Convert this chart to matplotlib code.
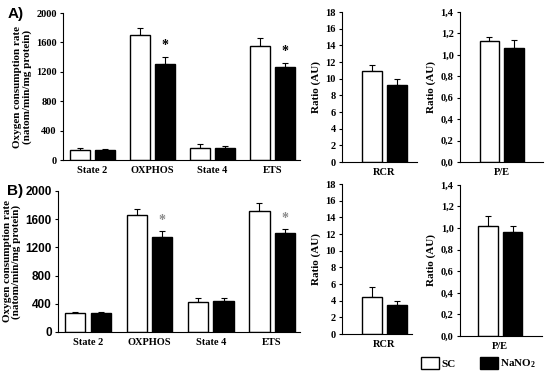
import matplotlib.pyplot as plt
import numpy as np

plt.rcParams['font.family'] = ['Liberation Serif', 'DejaVu Serif']
plt.rcParams['font.weight'] = 'bold'
plt.rcParams['axes.labelweight'] = 'bold'
plt.rcParams['mathtext.fontset'] = 'custom'
plt.rcParams['mathtext.rm'] = 'Liberation Serif:bold'
plt.rcParams['mathtext.bf'] = 'Liberation Serif:bold'
plt.rcParams['mathtext.default'] = 'bf'

states = ["State 2", "OXPHOS", "State 4", "ETS"]

# panel A
a_sc = [140, 1700, 167, 1547]
a_sc_err = [18, 92, 46, 118]
a_na = [140, 1312, 158, 1271]
a_na_err = [8, 91, 32, 50]
a_star = [False, True, False, True]
a_rcr = [10.87, 9.29]
a_rcr_err = [0.8, 0.71]
a_pe = [1.13, 1.065]
a_pe_err = [0.034, 0.078]

# panel B
b_sc = [270, 1664, 430, 1712]
b_sc_err = [18, 85, 52, 118]
b_na = [270, 1348, 435, 1409]
b_na_err = [10, 89, 47, 47]
b_star = [False, True, False, True]
b_rcr = [4.47, 3.51]
b_rcr_err = [1.16, 0.44]
b_pe = [1.023, 0.961]
b_pe_err = [0.089, 0.059]

W = 0.33
G = 0.085
off = W / 2 + G / 2

fig = plt.figure(figsize=(5.5, 3.75), dpi=100)


def style(ax, ymax, step, fmt, tickfont=None):
    for s in ['top', 'right']:
        ax.spines[s].set_visible(False)
    ax.spines['left'].set_linewidth(0.8)
    ax.spines['bottom'].set_linewidth(0.8)
    ax.set_ylim(0, ymax)
    ticks = np.arange(0, ymax + step / 2, step)
    ax.set_yticks(ticks)
    ax.set_yticklabels([fmt(t) for t in ticks])
    ax.tick_params(axis='y', length=2.5, width=0.8, pad=2, labelsize=7.5)
    ax.tick_params(axis='x', length=0, pad=4, labelsize=7.5)
    for lab in ax.get_yticklabels() + ax.get_xticklabels():
        lab.set_weight('bold')
    if tickfont:
        for lab in ax.get_yticklabels():
            lab.set_family(tickfont)
            lab.set_fontsize(8.5)


def pair(ax, x, sc, sc_err, na, na_err):
    x = np.asarray(x, dtype=float)
    ax.bar(x - off, sc, W, color='white', edgecolor='black', linewidth=1, zorder=2)
    ax.bar(x + off, na, W, color='black', edgecolor='black', linewidth=1, zorder=2)
    ax.errorbar(x - off, sc, yerr=[np.zeros(len(sc)), sc_err], fmt='none',
                ecolor='black', elinewidth=0.8, capsize=2.2, capthick=0.8, zorder=1)
    ax.errorbar(x + off, na, yerr=[np.zeros(len(na)), na_err], fmt='none',
                ecolor='black', elinewidth=0.8, capsize=2.2, capthick=0.8, zorder=1)


def main_panel(rect, sc, sc_err, na, na_err, stars, starcol, tickfont=None):
    ax = fig.add_axes(rect)
    x = np.arange(len(states))
    pair(ax, x, sc, sc_err, na, na_err)
    ax.set_xlim(-0.49, 3.45)
    ax.set_xticks(x)
    ax.set_xticklabels(states)
    style(ax, 2000, 400, lambda t: "%d" % t, tickfont)
    for i, s in enumerate(stars):
        if s:
            ax.text(i + off, na[i] + na_err[i] + 150, "*", ha='center', va='center',
                    fontsize=10, color=starcol)
    ax.set_ylabel("Oxygen consumption rate\n(natom/min/mg protein)", fontsize=8,
                  fontweight='bold', linespacing=1.0, labelpad=3)
    return ax


def ratio_panel(rect, vals, errs, ymax, step, fmt, name, xl):
    ax = fig.add_axes(rect)
    pair(ax, [0], [vals[0]], [errs[0]], [vals[1]], [errs[1]])
    ax.set_xlim(*xl)
    ax.set_xticks([0])
    ax.set_xticklabels([name])
    style(ax, ymax, step, fmt)
    ax.set_ylabel("Ratio (AU)", fontsize=8, fontweight='bold', labelpad=3)
    return ax


main_panel([0.1145, 0.5733, 0.4305, 0.392], a_sc, a_sc_err, a_na, a_na_err,
           a_star, 'black')
main_panel([0.1055, 0.1147, 0.4395, 0.376], b_sc, b_sc_err, b_na, b_na_err,
           b_star, '#8a8a8a', tickfont='Liberation Sans')

rcr_fmt = lambda t: "%d" % round(t)
pe_fmt = lambda t: ("%.1f" % t).replace('.', ',')

ratio_panel([0.622, 0.568, 0.136, 0.40], a_rcr, a_rcr_err, 18, 2, rcr_fmt, "RCR",
            (-0.71, 0.54))
ratio_panel([0.836, 0.568, 0.151, 0.40], a_pe, a_pe_err, 1.4, 0.2, pe_fmt, "P/E",
            (-0.70, 0.68))
ratio_panel([0.622, 0.109, 0.127, 0.40], b_rcr, b_rcr_err, 18, 2, rcr_fmt, "RCR",
            (-0.71, 0.46))
ratio_panel([0.836, 0.104, 0.149, 0.403], b_pe, b_pe_err, 1.4, 0.2, pe_fmt, "P/E",
            (-0.68, 0.70))

fig.text(0.013, 0.962, "A)", fontsize=11, fontweight='bold',
         family='Liberation Sans', va='center')
fig.text(0.013, 0.49, "B)", fontsize=11, fontweight='bold',
         family='Liberation Sans', va='center')

# legend
h1 = plt.Rectangle((0, 0), 1, 1, facecolor='white', edgecolor='black', linewidth=1)
h2 = plt.Rectangle((0, 0), 1, 1, facecolor='black', edgecolor='black', linewidth=1)
fig.legend([h1, h2], ["SC", "NaNO$_2$"], loc='center', bbox_to_anchor=(0.87, 0.03),
           ncol=2, frameon=False, prop={'size': 8, 'weight': 'bold'},
           handlelength=1.6, handleheight=1.2, columnspacing=2.2, handletextpad=0.2)

fig.savefig("out.png", dpi=100)
